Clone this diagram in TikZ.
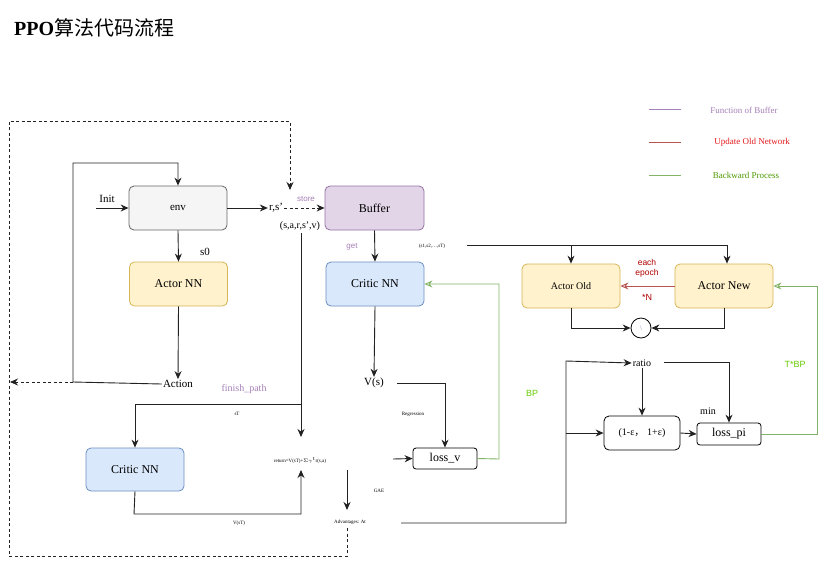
\documentclass[tikz,border=0pt]{standalone}
\usepackage{fontspec}
\setmainfont{Liberation Serif}
\setsansfont{Liberation Sans}
\newfontfamily\cjk{Noto Sans CJK SC}
\usetikzlibrary{arrows.meta}
\definecolor{envfill}{HTML}{F5F5F5}
\definecolor{envline}{HTML}{666666}
\definecolor{buffill}{HTML}{E1D5E7}
\definecolor{bufline}{HTML}{9673A6}
\definecolor{actfill}{HTML}{FFF2CC}
\definecolor{actline}{HTML}{D6B656}
\definecolor{crfill}{HTML}{DAE8FC}
\definecolor{crline}{HTML}{6C8EBF}
\definecolor{ptext}{HTML}{A680B8}
\definecolor{redline}{HTML}{B85450}
\definecolor{redtext}{HTML}{E31A1C}
\definecolor{darkred}{HTML}{B20000}
\definecolor{gline}{HTML}{82B366}
\definecolor{gtext}{HTML}{4D9900}
\definecolor{btext}{HTML}{66CC00}
\definecolor{ln}{HTML}{222222}
\tikzset{
  box/.style={rounded corners=5pt, line width=0.8pt, minimum width=98pt, minimum height=44pt, inner sep=0pt, font=\rmfamily\fontsize{12}{14}\selectfont},
  txt/.style={inner sep=1pt, font=\rmfamily\fontsize{11}{13}\selectfont},
  tiny/.style={inner sep=0.5pt, font=\rmfamily\fontsize{5}{6}\selectfont},
  arr/.style={draw=ln, line width=0.9pt, -{Stealth[length=8pt,width=7pt]}},
  ln/.style={draw=ln, line width=0.9pt},
  dsh/.style={draw=ln, line width=0.9pt, dash pattern=on 3pt off 2.5pt},
  garr/.style={draw=gline, line width=0.9pt, -{Stealth[length=8pt,width=7pt,open]}},
}
\begin{document}
\begin{tikzpicture}[x=1pt,y=-1pt]
\useasboundingbox (0,0) rectangle (827,566);
\fill[white] (0,0) rectangle (827,566);

% title
\node[anchor=west, inner sep=0pt] (title) at (14,28) {\fontsize{20}{24}\selectfont\textbf{PPO}\cjk 算法代码流程};

% legend
\coordinate (l1a) at (649,109); \coordinate (l1b) at (681,109);
\coordinate (l2a) at (649,142); \coordinate (l2b) at (681,142);
\coordinate (l3a) at (649,175); \coordinate (l3b) at (681,175);
\draw[ptext, line width=0.9pt] (l1a) -- (l1b);
\draw[redline, line width=0.9pt] (l2a) -- (l2b);
\draw[gline, line width=0.9pt] (l3a) -- (l3b);
\node[txt, text=ptext, font=\rmfamily\fontsize{9}{11}\selectfont] (lg1) at (744,110) {Function of Buffer};
\node[txt, text=redtext, font=\rmfamily\fontsize{9}{11}\selectfont] (lg2) at (752,142) {Update Old Network};
\node[txt, text=gtext, font=\rmfamily\fontsize{9}{11}\selectfont] (lg3) at (746,175) {Backward Process};

% boxes
\node[box, draw=envline, fill=envfill, font=\rmfamily\fontsize{11}{13}\selectfont] (env) at (178,208) {env};
\node[box, draw=bufline, fill=buffill, minimum width=99pt] (buffer) at (374.5,208) {Buffer};
\node[box, draw=actline, fill=actfill] (actor) at (178.5,284) {Actor NN};
\node[box, draw=crline, fill=crfill] (critic1) at (375,284) {Critic NN};
\node[box, draw=crline, fill=crfill, minimum height=43pt] (critic2) at (135,469.5) {Critic NN};
\node[box, draw=actline, fill=actfill, font=\rmfamily\fontsize{10}{12}\selectfont] (actold) at (571,286) {Actor Old};
\node[box, draw=actline, fill=actfill] (actnew) at (724,286) {Actor New};
\node[box, draw=black, fill=white, minimum width=76pt, minimum height=34pt, font=\rmfamily\fontsize{10}{12}\selectfont] (clip) at (642,433) {(1-ε{\cjk ，}\;1+ε)};
\node[box, draw=black, fill=white, minimum width=64pt, minimum height=22pt, rounded corners=3pt] (losspi) at (729,434) {loss\_pi};
\node[box, draw=black, fill=white, minimum width=64pt, minimum height=21pt, rounded corners=3pt] (lossv) at (445,458.5) {loss\_v};
\node[circle, draw=black, line width=0.8pt, minimum size=20pt, inner sep=0pt, text=ptext, font=\rmfamily\fontsize{7}{8}\selectfont] (circ) at (641,328) {\textbackslash};

% text nodes
\node[txt] (init) at (107,199) {Init};
\node[txt] (rs) at (276,208) {r,s'};
\node[inner sep=1pt, text=ptext, font=\sffamily\fontsize{8}{9}\selectfont] (store) at (306,199) {store};
\node[txt, font=\rmfamily\fontsize{10}{12}\selectfont] (sarsv) at (300,226) {(s,a,r,s',v)};
\node[txt] (s0) at (205,252) {s0};
\node[txt] (action) at (178,384) {Action};
\node[inner sep=1pt, text=ptext, font=\sffamily\fontsize{8}{9}\selectfont] (get) at (352,247) {get};
\node[tiny] (seq) at (432,246) {(s1,s2,…,sT)};
\node[txt, text=ptext, font=\rmfamily\fontsize{10}{12}\selectfont] (finish) at (244,389) {finish\_path};
\node[tiny] (sT) at (237,414) {sT};
\node[txt] (Vs) at (374,383) {V(s)};
\node[tiny] (regr) at (413,414) {Regression};
\node[tiny] (ret) at (300,460) {return=V(sT)+$\Sigma\gamma^{t}$r(s,a)};
\node[tiny] (VsT) at (239,523) {V(sT)};
\node[tiny] (gae) at (379,491) {GAE};
\node[tiny] (adv) at (350,522) {Advantages: At};
\node[txt, font=\rmfamily\fontsize{10}{12}\selectfont] (ratio) at (642,363) {ratio};
\node[txt, font=\rmfamily\fontsize{10}{12}\selectfont] (min) at (708,411) {min};
\node[inner sep=1pt, align=center, text=darkred, font=\sffamily\fontsize{8.5}{10}\selectfont] (epoch) at (647,268) {each\\epoch};
\node[inner sep=1pt, text=darkred, font=\sffamily\fontsize{9}{10}\selectfont] (N) at (647,297) {*N};
\node[inner sep=1pt, text=btext, font=\sffamily\fontsize{9}{10}\selectfont] (BP) at (532,393) {BP};
\node[inner sep=1pt, text=btext, font=\sffamily\fontsize{9}{10}\selectfont] (TBP) at (795,364) {T*BP};

% coordinates
\coordinate (initstart) at (96,208);
\coordinate (loopL) at (73,382);
\coordinate (loopT) at (73,163);
\coordinate (dashL) at (10,382);
\coordinate (dA) at (347,528);
\coordinate (dB) at (347,556);
\coordinate (dC) at (9,556);
\coordinate (dD) at (9,121);
\coordinate (dE) at (290,121);
\coordinate (dF) at (290,190);
\coordinate (vtop) at (301,233);
\coordinate (vbr) at (301,404);
\coordinate (rettop) at (301,437);
\coordinate (retbot) at (301,470);
\coordinate (cbot) at (134,514);
\coordinate (gaetop) at (347,470);
\coordinate (gaebot) at (347,510);
\coordinate (seqL) at (467,245);
\coordinate (seqR) at (727,245);
\coordinate (seqM) at (571,245);
\coordinate (advR) at (401,523);
\coordinate (advV) at (566,361);
\coordinate (advB) at (566,433);
\coordinate (ratioR) at (664,362);
\coordinate (VsR) at (397,383);
\coordinate (lvin) at (393,459);
\coordinate (gv) at (499,459);
\coordinate (gp) at (817,434);

% connectors
\draw[arr] (initstart) -- (env.west);
\draw[arr] (env.east) -- (rs.west);
\draw[dsh, -{Stealth[length=8pt,width=7pt]}] (rs.east) -- (buffer.west);
\draw[dsh, -{Stealth[length=8pt,width=7pt]}] (dA) -- (dB) -- (dC) -- (dD) -- (dE) -- (dF);
\draw[dsh, -{Stealth[length=8pt,width=7pt]}] (loopL) -- (dashL);
\draw[arr] (action.west) -- (loopL) -- (loopT) -| (env.north);
\draw[arr] (env.south) -- (actor.north);
\draw[arr] (actor.south) -- (action.north);
\draw[arr] (vtop) -- (rettop);
\draw[arr] (vbr) -| (critic2.north);
\draw[arr] (critic2.south) -- (cbot) -| (retbot);
\draw[arr] (gaetop) -- (gaebot);
\draw[arr] (buffer.south) -- (critic1.north);
\draw[ln] (seqL) -- (seqR);
\draw[arr] (seqM) -- (actold.north);
\draw[arr] (seqR) -- (seqR |- actnew.north);
\draw[redline, line width=0.9pt, -{Stealth[length=8pt,width=7pt,open]}] (actnew.west) -- (actold.east);
\draw[arr] (actold.south) |- (circ.west);
\draw[arr] (actnew.south) |- (circ.east);
\draw[arr] (advR) -| (advV) -- (ratio.west);
\draw[arr] (advB) -- (clip.west);
\draw[arr] (ratio.south) -- (clip.north);
\draw[arr] (ratioR) -| (losspi.north);
\draw[arr] (clip.east) -- (losspi.west);
\draw[garr] (losspi.east) -- (gp) |- (actnew.east);
\draw[arr] (critic1.south) -- (Vs.north);
\draw[arr] (VsR) -| (lossv.north);
\draw[arr] (lvin) -- (lossv.west);
\draw[garr] (lossv.east) -- (gv) |- (critic1.east);
\end{tikzpicture}
\end{document}
